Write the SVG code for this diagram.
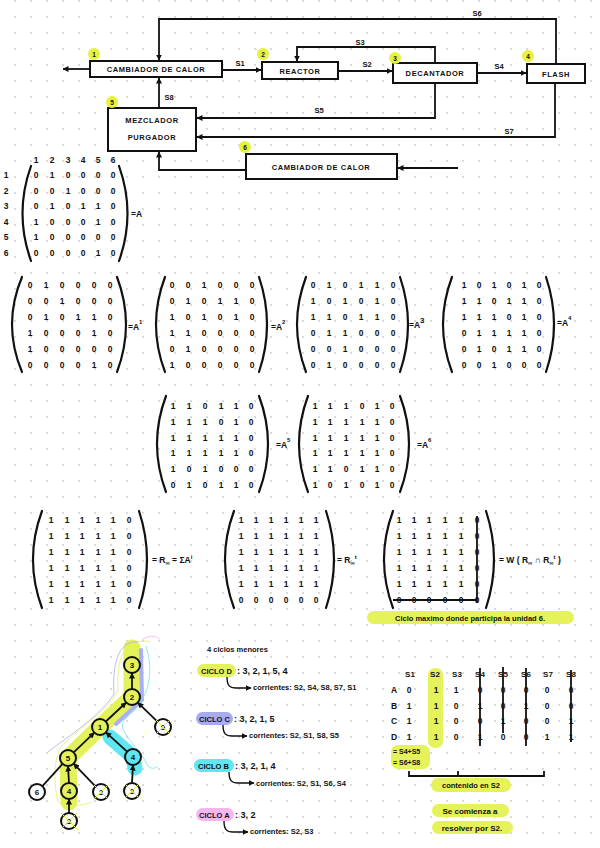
<svg xmlns="http://www.w3.org/2000/svg" width="600" height="848" viewBox="0 0 600 848">
<defs>
<pattern id="dots" width="16" height="16" patternUnits="userSpaceOnUse">
<circle cx="15" cy="1" r="0.9" fill="#c9c9c9"/>
</pattern>
<marker id="ar" viewBox="0 0 6 6" refX="5.5" refY="3" markerWidth="6" markerHeight="6" markerUnits="userSpaceOnUse" orient="auto">
<path d="M0,0 L6,3 L0,6 z" fill="#111"/>
</marker>
<style>
.t{font-family:"Liberation Sans",Arial,sans-serif;font-weight:bold;fill:#111}
.bx{fill:#fff;stroke:#111;stroke-width:2}
.ln{fill:none;stroke:#111;stroke-width:1.8}
.ar{marker-end:url(#ar)}
.p{fill:none;stroke:#111;stroke-width:2.2;stroke-linecap:round}
.m{font-size:8.5px;text-anchor:middle}
.lb{font-size:7.5px;text-anchor:middle;letter-spacing:0.6px}
.sl{font-size:7.5px;text-anchor:middle}
.bd{fill:#e6f23c}
.bt{font-size:6.5px;text-anchor:middle}
.eq{font-size:8.5px}
.sup{font-size:6px}
.hy{fill:#e6f25a}
.cy{font-size:7.5px}
.nd{stroke:#111;stroke-width:2}
.nt{font-size:8px;text-anchor:middle}
.x{stroke:#dbe84a;stroke-width:1}
.th{font-size:8px;text-anchor:middle}
</style>
</defs>
<rect width="600" height="848" fill="#fff"/>
<rect width="600" height="848" fill="url(#dots)"/>

<g id="connectors">
<path class="ln ar" d="M90 69 H63"/>
<path class="ln ar" d="M222 70 H261"/>
<path class="ln ar" d="M339 71 H392"/>
<path class="ln ar" d="M477 73 H526"/>
<path class="ln ar" d="M556 64 V19 H159 V60"/>
<path class="ln ar" d="M435 63 V47 H297 V61"/>
<path class="ln ar" d="M435 83 V118 H197"/>
<path class="ln ar" d="M555 83 V137 H197"/>
<path class="ln ar" d="M159 108 V78"/>
<path class="ln ar" d="M246 170 H159 V152"/>
<path class="ln ar" d="M458 168 H398"/>
<text class="t sl" x="240" y="66">S1</text>
<text class="t sl" x="367" y="67">S2</text>
<text class="t sl" x="360" y="45">S3</text>
<text class="t sl" x="499" y="69">S4</text>
<text class="t sl" x="319" y="113">S5</text>
<text class="t sl" x="477" y="16">S6</text>
<text class="t sl" x="509" y="134">S7</text>
<text class="t sl" x="169" y="100">S8</text>
</g>

<g id="unit1">
<rect class="bx" x="90" y="61" width="132" height="16"/>
<text class="t lb" x="156" y="72">CAMBIADOR DE CALOR</text>
<circle class="bd" cx="94" cy="54" r="6"/>
<text class="t bt" x="94" y="56.5">1</text>
</g>
<g id="unit2">
<rect class="bx" x="262" y="62" width="76" height="17"/>
<text class="t lb" x="300" y="73.5">REACTOR</text>
<circle class="bd" cx="263" cy="54" r="6"/>
<text class="t bt" x="263" y="56.5">2</text>
</g>
<g id="unit3">
<rect class="bx" x="393" y="63" width="84" height="20"/>
<text class="t lb" x="435" y="76">DECANTADOR</text>
<circle class="bd" cx="395" cy="58" r="6"/>
<text class="t bt" x="395" y="60.5">3</text>
</g>
<g id="unit4">
<rect class="bx" x="527" y="64" width="58" height="19"/>
<text class="t lb" x="556" y="77">FLASH</text>
<circle class="bd" cx="528" cy="56" r="6"/>
<text class="t bt" x="528" y="58.5">4</text>
</g>
<g id="unit5">
<rect class="bx" x="108" y="108" width="88" height="43"/>
<text class="t lb" x="152" y="123">MEZCLADOR</text>
<text class="t lb" x="152" y="140">PURGADOR</text>
<circle class="bd" cx="112" cy="102" r="6"/>
<text class="t bt" x="112" y="104.5">5</text>
</g>
<g id="unit6">
<rect class="bx" x="246" y="154" width="151" height="25"/>
<text class="t lb" x="321" y="170">CAMBIADOR DE CALOR</text>
<circle class="bd" cx="245" cy="147" r="6"/>
<text class="t bt" x="245" y="149.5">6</text>
</g>

<g id="matrixA">
<text class="t m" x="36 52 68 83 98 113" y="163">123456</text>
<text class="t m" x="6 6 6 6 6 6" y="178 194 209 225 240 256">123456</text>
<text class="t m" x="36 52 68 83 98 113" y="178">010000</text>
<text class="t m" x="36 52 68 83 98 113" y="194">001000</text>
<text class="t m" x="36 52 68 83 98 113" y="209">010110</text>
<text class="t m" x="36 52 68 83 98 113" y="225">100010</text>
<text class="t m" x="36 52 68 83 98 113" y="240">100000</text>
<text class="t m" x="36 52 68 83 98 113" y="256">000010</text>
<path class="p" d="M31 166 Q14 213.5 31 261"/>
<path class="p" d="M119 166 Q136 213.5 119 261"/>
<text class="t eq" x="131" y="217">=A</text>
</g>

<g id="matrixA1">
<text class="t m" x="30 46 62 78 94 110" y="288">010000</text>
<text class="t m" x="30 46 62 78 94 110" y="304">001000</text>
<text class="t m" x="30 46 62 78 94 110" y="320">010110</text>
<text class="t m" x="30 46 62 78 94 110" y="336">100010</text>
<text class="t m" x="30 46 62 78 94 110" y="352">100000</text>
<text class="t m" x="30 46 62 78 94 110" y="368">000010</text>
<path class="p" d="M22 277 Q2 324.5 22 372"/>
<path class="p" d="M117 277 Q135 324.5 117 372"/>
<text class="t eq" x="128" y="330">=A<tspan class="sup" dy="-6">1</tspan></text>
</g>

<g id="matrixA2">
<text class="t m" x="172 188 204 220 236 252" y="288">001000</text>
<text class="t m" x="172 188 204 220 236 252" y="304">010110</text>
<text class="t m" x="172 188 204 220 236 252" y="320">101010</text>
<text class="t m" x="172 188 204 220 236 252" y="336">110000</text>
<text class="t m" x="172 188 204 220 236 252" y="352">010000</text>
<text class="t m" x="172 188 204 220 236 252" y="368">100000</text>
<path class="p" d="M165 277 Q147 324.5 165 372"/>
<path class="p" d="M259 277 Q275 324.5 259 372"/>
<text class="t eq" x="271" y="330">=A<tspan class="sup" dy="-6">2</tspan></text>
</g>

<g id="matrixA3">
<text class="t m" x="313 329 345 361 377 393" y="288">010110</text>
<text class="t m" x="313 329 345 361 377 393" y="304">101010</text>
<text class="t m" x="313 329 345 361 377 393" y="320">110110</text>
<text class="t m" x="313 329 345 361 377 393" y="336">011000</text>
<text class="t m" x="313 329 345 361 377 393" y="352">001000</text>
<text class="t m" x="313 329 345 361 377 393" y="368">010000</text>
<path class="p" d="M306 277 Q288 324.5 306 372"/>
<path class="p" d="M400 277 Q416 324.5 400 372"/>
<text class="t eq" x="409" y="328">=A<tspan style="font-size:8px" dy="-5">3</tspan></text>
</g>

<g id="matrixA4">
<text class="t m" x="464 479 494 509 524 539" y="288">101010</text>
<text class="t m" x="464 479 494 509 524 539" y="304">110110</text>
<text class="t m" x="464 479 494 509 524 539" y="320">111010</text>
<text class="t m" x="464 479 494 509 524 539" y="336">011110</text>
<text class="t m" x="464 479 494 509 524 539" y="352">010110</text>
<text class="t m" x="464 479 494 509 524 539" y="368">001000</text>
<path class="p" d="M452 277 Q434 324.5 452 372"/>
<path class="p" d="M546 277 Q562 324.5 546 372"/>
<text class="t eq" x="557" y="326">=A<tspan class="sup" dy="-6">4</tspan></text>
</g>

<g id="matrixA5">
<text class="t m" x="173 189 205 221 236 251" y="409">110110</text>
<text class="t m" x="173 189 205 221 236 251" y="425">111010</text>
<text class="t m" x="173 189 205 221 236 251" y="441">111110</text>
<text class="t m" x="173 189 205 221 236 251" y="456">111110</text>
<text class="t m" x="173 189 205 221 236 251" y="472">101000</text>
<text class="t m" x="173 189 205 221 236 251" y="488">010110</text>
<path class="p" d="M166 396 Q148 444 166 492"/>
<path class="p" d="M259 396 Q277 444 259 492"/>
<text class="t eq" x="276" y="448">=A<tspan class="sup" dy="-6">5</tspan></text>
</g>

<g id="matrixA6">
<text class="t m" x="315 330 346 362 377 392" y="409">111010</text>
<text class="t m" x="315 330 346 362 377 392" y="425">111110</text>
<text class="t m" x="315 330 346 362 377 392" y="441">111110</text>
<text class="t m" x="315 330 346 362 377 392" y="456">111110</text>
<text class="t m" x="315 330 346 362 377 392" y="472">110110</text>
<text class="t m" x="315 330 346 362 377 392" y="488">101010</text>
<path class="p" d="M308 396 Q290 444 308 492"/>
<path class="p" d="M400 396 Q418 444 400 492"/>
<text class="t eq" x="417" y="448">=A<tspan class="sup" dy="-6">6</tspan></text>
</g>

<g id="matrixR">
<text class="t m" x="51 67 82 98 113 129" y="523">111110</text>
<text class="t m" x="51 67 82 98 113 129" y="539">111110</text>
<text class="t m" x="51 67 82 98 113 129" y="555">111110</text>
<text class="t m" x="51 67 82 98 113 129" y="571">111110</text>
<text class="t m" x="51 67 82 98 113 129" y="587">111110</text>
<text class="t m" x="51 67 82 98 113 129" y="603">111110</text>
<path class="p" d="M42 511 Q24 559.5 42 608"/>
<path class="p" d="M139 511 Q155 559.5 139 608"/>
<text class="t eq" x="152" y="563">= R<tspan class="sup" dy="1.5">∞</tspan><tspan dy="-1.5"> = ΣA</tspan><tspan class="sup" dy="-4">i</tspan></text>
</g>

<g id="matrixRt">
<text class="t m" x="241 256 271 286 301 316" y="523">111111</text>
<text class="t m" x="241 256 271 286 301 316" y="539">111111</text>
<text class="t m" x="241 256 271 286 301 316" y="555">111111</text>
<text class="t m" x="241 256 271 286 301 316" y="571">111111</text>
<text class="t m" x="241 256 271 286 301 316" y="587">111111</text>
<text class="t m" x="241 256 271 286 301 316" y="603">000000</text>
<path class="p" d="M234 511 Q216 559.5 234 608"/>
<path class="p" d="M326 511 Q342 559.5 326 608"/>
<text class="t eq" x="337" y="563">= R<tspan class="sup" dy="1.5">∞</tspan><tspan class="sup" dy="-5.5">t</tspan></text>
</g>

<g id="matrixW">
<text class="t m" x="399 414 429 445 461 477" y="523">111110</text>
<text class="t m" x="399 414 429 445 461 477" y="539">111110</text>
<text class="t m" x="399 414 429 445 461 477" y="555">111110</text>
<text class="t m" x="399 414 429 445 461 477" y="571">111110</text>
<text class="t m" x="399 414 429 445 461 477" y="587">111110</text>
<text class="t m" x="399 414 429 445 461 477" y="603">000000</text>
<path class="ln" d="M477 516 V603 M393 600 H477"/>
<path class="p" d="M393 511 Q375 559.5 393 608"/>
<path class="p" d="M486 511 Q502 559.5 486 608"/>
<text class="t eq" x="499" y="563">= W ( R<tspan class="sup" dy="1.5">∞</tspan><tspan dy="-1.5"> ∩ R</tspan><tspan class="sup" dy="1.5">∞</tspan><tspan class="sup" dy="-5.5">t</tspan><tspan dy="4"> )</tspan></text>
<rect class="hy" x="367" y="611" width="207" height="13" rx="6.5"/>
<text class="t" x="470" y="620.5" style="font-size:7.5px;text-anchor:middle">Ciclo maximo donde participa la unidad 6.</text>
</g>

<g id="tree">
<path d="M132 648 L132 697 L100 727 L68 758 L69 802" fill="none" stroke="#e3f25c" stroke-width="17" stroke-linecap="round" stroke-linejoin="round"/>
<path d="M110 737 L133 757 L135 768" fill="none" stroke="#5fe6f0" stroke-width="15" stroke-linecap="round" stroke-linejoin="round"/>
<path d="M141 650 L142 700 L116 724" fill="none" stroke="#aab0f5" stroke-width="4" stroke-linecap="round"/>
<path d="M150 642 C124 636 116 660 118 690 C108 712 78 728 60 748 C52 765 55 790 58 802 C66 808 82 806 92 802" fill="none" stroke="#e8f060" stroke-width="0.8"/>
<path d="M146 646 C154 672 150 700 126 718 C114 730 136 742 148 766 C152 770 156 768 158 766" fill="none" stroke="#6fe6ee" stroke-width="0.8"/>
<path d="M138 642 C118 640 112 665 114 694 C100 716 70 735 48 752" fill="none" stroke="#aab0f5" stroke-width="0.8"/>
<path d="M142 640 C150 634 158 636 160 640" fill="none" stroke="#f5b0ee" stroke-width="0.8"/>
<path class="ln ar" d="M132 689 V673"/>
<path class="ln ar" d="M105.8 721.5 L126.2 702.5"/>
<path class="ln ar" d="M157.2 721.4 L137.8 702.6"/>
<path class="ln ar" d="M73.7 752.4 L94.3 732.6"/>
<path class="ln ar" d="M127.1 751.6 L105.9 732.4"/>
<path class="ln" d="M42.4 786.1 L62.6 763.9"/>
<path class="ln ar" d="M69 783 L68 766"/>
<path class="ln ar" d="M95.4 786.3 L73.6 763.7"/>
<path class="ln ar" d="M132 783 L133 765"/>
<path class="ln ar" d="M69 813 L69 799"/>
<g id="n3a"><circle class="nd" cx="132" cy="665" r="8" fill="#e3f25c"/><text class="t nt" x="132" y="668">3</text></g>
<g id="n2"><circle class="nd" cx="132" cy="697" r="8" fill="#e3f25c"/><text class="t nt" x="132" y="700">2</text></g>
<g id="n5r"><circle class="nd" cx="163" cy="727" r="8" fill="#fff"/><text class="t nt" x="163" y="730">5</text><path class="x" d="M156 720 L170 734 M170 720 L156 734"/></g>
<g id="n1"><circle class="nd" cx="100" cy="727" r="8" fill="#e3f25c"/><text class="t nt" x="100" y="730">1</text></g>
<g id="n4c"><circle class="nd" cx="133" cy="757" r="8" fill="#5fe6f0"/><text class="t nt" x="133" y="760">4</text></g>
<g id="n5"><circle class="nd" cx="68" cy="758" r="8" fill="#e3f25c"/><text class="t nt" x="68" y="761">5</text></g>
<g id="n6"><circle class="nd" cx="37" cy="792" r="8" fill="#fff"/><text class="t nt" x="37" y="795">6</text></g>
<g id="n4"><circle class="nd" cx="69" cy="791" r="8" fill="#e3f25c"/><text class="t nt" x="69" y="794">4</text></g>
<g id="n3b"><circle class="nd" cx="101" cy="792" r="8" fill="#fff"/><text class="t nt" x="101" y="795">3</text><path class="x" d="M94 785 L108 799 M108 785 L94 799"/></g>
<g id="n3c"><circle class="nd" cx="132" cy="791" r="8" fill="#fff"/><text class="t nt" x="132" y="794">3</text><path class="x" d="M125 784 L139 798 M139 784 L125 798"/></g>
<g id="n3d"><circle class="nd" cx="69" cy="821" r="8" fill="#fafce8"/><text class="t nt" x="69" y="824">3</text><path class="x" d="M61 813 L78 830 M77 813 L61 829"/></g>
</g>

<g id="cycles">
<text class="t cy" x="207" y="652">4 ciclos menores</text>
<rect x="197" y="664" width="39" height="13" rx="6.5" fill="#e3f25c"/>
<text class="t cy" x="201" y="674">CICLO D</text>
<text class="t" x="237" y="674" style="font-size:9px">: 3, 2, 1, 5, 4</text>
<path class="ln ar" d="M227 677 C227 686 230 688 236 688 H251" style="stroke-width:1.4"/>
<text class="t cy" x="253" y="690">corrientes: S2, S4, S8, S7, S1</text>
<rect x="196" y="712" width="37" height="13" rx="6.5" fill="#a9abf0"/>
<text class="t cy" x="199" y="722">CICLO C</text>
<text class="t" x="234" y="722" style="font-size:9px">: 3, 2, 1, 5</text>
<path class="ln ar" d="M223 725 C223 734 226 736 232 736 H247" style="stroke-width:1.4"/>
<text class="t cy" x="249" y="738">corrientes: S2, S1, S8, S5</text>
<rect x="194" y="759" width="40" height="13" rx="6.5" fill="#5fe6f0"/>
<text class="t cy" x="198" y="769">CICLO B</text>
<text class="t" x="235" y="769" style="font-size:9px">: 3, 2, 1, 4</text>
<path class="ln ar" d="M229 772 C229 781 232 783 238 783 H254" style="stroke-width:1.4"/>
<text class="t cy" x="256" y="786">corrientes: S2, S1, S6, S4</text>
<rect x="196" y="808" width="38" height="13" rx="6.5" fill="#f5b6f0"/>
<text class="t cy" x="199" y="818">CICLO A</text>
<text class="t" x="235" y="818" style="font-size:9px">: 3, 2</text>
<path class="ln ar" d="M224 821 C224 830 227 832 233 832 H248" style="stroke-width:1.4"/>
<text class="t cy" x="250" y="834">corrientes: S2, S3</text>
</g>

<g id="table">
<rect class="hy" x="428" y="668" width="15" height="80" rx="7"/>
<path class="ln" d="M480 668 V746 M503 667 V733 M526 668 V746 M571 670 V742"/>
<text class="t th" x="410" y="677">S1</text>
<text class="t th" x="435" y="677">S2</text>
<text class="t th" x="457" y="677">S3</text>
<text class="t th" x="480" y="677">S4</text>
<text class="t th" x="503" y="677">S5</text>
<text class="t th" x="526" y="677">S6</text>
<text class="t th" x="548" y="677">S7</text>
<text class="t th" x="571" y="677">S8</text>
<text class="t m" x="394 394 394 394" y="693 709 724 740">ABCD</text>
<text class="t m" x="409 436 456 480 503 526 547 571" y="693">01100000</text>
<text class="t m" x="409 436 456 480 503 526 547 571" y="709">11010100</text>
<text class="t m" x="409 436 456 480 503 526 547 571" y="724">11001001</text>
<text class="t m" x="409 436 456 480 503 526 547 571" y="740">11010011</text>
<rect class="hy" x="391" y="745" width="39" height="24" rx="7"/>
<text class="t" x="393" y="754" style="font-size:7px">= S4+S5</text>
<text class="t" x="393" y="765" style="font-size:7px">= S6+S8</text>
<path class="ln" d="M409 771 V776 H544 V771 M458 776 V771"/>
<rect class="hy" x="431" y="778" width="80" height="14" rx="7"/>
<text class="t" x="471" y="788" style="font-size:7.5px;text-anchor:middle">contenido en S2</text>
<rect class="hy" x="432" y="804" width="77" height="13" rx="6.5"/>
<text class="t" x="470" y="814" style="font-size:8px;text-anchor:middle">Se comienza a</text>
<rect class="hy" x="432" y="821" width="81" height="13" rx="6.5"/>
<text class="t" x="472" y="831" style="font-size:8px;text-anchor:middle">resolver por S2.</text>
</g>
</svg>
